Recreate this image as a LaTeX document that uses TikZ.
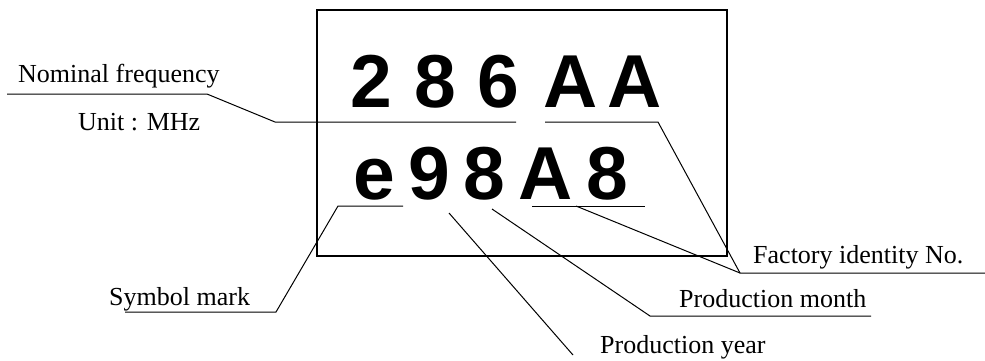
\documentclass[tikz,border=0pt]{standalone}
\usepackage{fontspec}
\setmainfont{Liberation Serif}
\newfontfamily\markfont{Liberation Sans}
\begin{document}
\begin{tikzpicture}[x=1pt, y=-1pt,
    bigchar/.style={inner sep=0pt, anchor=base, font=\markfont\bfseries\fontsize{75}{75}\selectfont},
    labeltext/.style={inner sep=0pt, anchor=base west, font=\fontsize{26}{26}\selectfont},
    leader/.style={line width=1pt, line join=miter}]
    \useasboundingbox (0,0) rectangle (985,360);

    % Draw frame
    \draw[line width=1.2pt] (317,10) rectangle (727,256);

    % Marking, first row
    \node[bigchar] (fA) at (371.5,107) {2};
    \node[bigchar] (fB) at (435,107) {8};
    \node[bigchar] (fC) at (498.5,107) {6};
    \node[bigchar] (idA) at (570.5,107) {A};
    \node[bigchar] (idB) at (635,107) {A};

    % Marking, second row
    \node[bigchar] (sym) at (374,199) {e};
    \node[bigchar] (year) at (429,199) {9};
    \node[bigchar] (month) at (484.5,199) {8};
    \node[bigchar] (idC) at (546,199) {A};
    \node[bigchar] (idD) at (607,199) {8};

    % Labels
    \node[labeltext] (nomLabel) at (18,82) {Nominal frequency};
    \node[labeltext] (unitLabel) at (78,130) {Unit : MHz};
    \node[labeltext] (symLabel) at (109,305) {Symbol mark};
    \node[labeltext] (facLabel) at (753,263) {Factory identity No.};
    \node[labeltext] (monthLabel) at (679,307) {Production month};
    \node[labeltext] (yearLabel) at (600,353) {Production year};

    % Leader points
    \coordinate (N1) at (7,94);
    \coordinate (N2) at (207,94);
    \coordinate (N3) at (275,122);
    \coordinate (N4) at (516,122);

    \coordinate (F1) at (545,122);
    \coordinate (F2) at (658,122);
    \coordinate (F3) at (740,273);
    \coordinate (F4) at (985,273);
    \coordinate (F5) at (532,206);
    \coordinate (F6) at (645,206);
    \coordinate (F7) at (576,206);

    \coordinate (S1) at (125,312);
    \coordinate (S2) at (276,312);
    \coordinate (S3) at (338,206);
    \coordinate (S4) at (403,206);

    \coordinate (Y1) at (449,213);
    \coordinate (Y2) at (573,355);

    \coordinate (M1) at (492,209);
    \coordinate (M2) at (650,316);
    \coordinate (M3) at (871,316);

    % Leader lines
    \draw[leader] (N1) -- (N2) -- (N3) -- (N4);
    \draw[leader] (F1) -- (F2) -- (F3) -- (F4);
    \draw[leader] (F5) -- (F6);
    \draw[leader] (F7) -- (F3);
    \draw[leader] (S1) -- (S2) -- (S3) -- (S4);
    \draw[leader] (Y1) -- (Y2);
    \draw[leader] (M1) -- (M2) -- (M3);

\end{tikzpicture}
\end{document}
